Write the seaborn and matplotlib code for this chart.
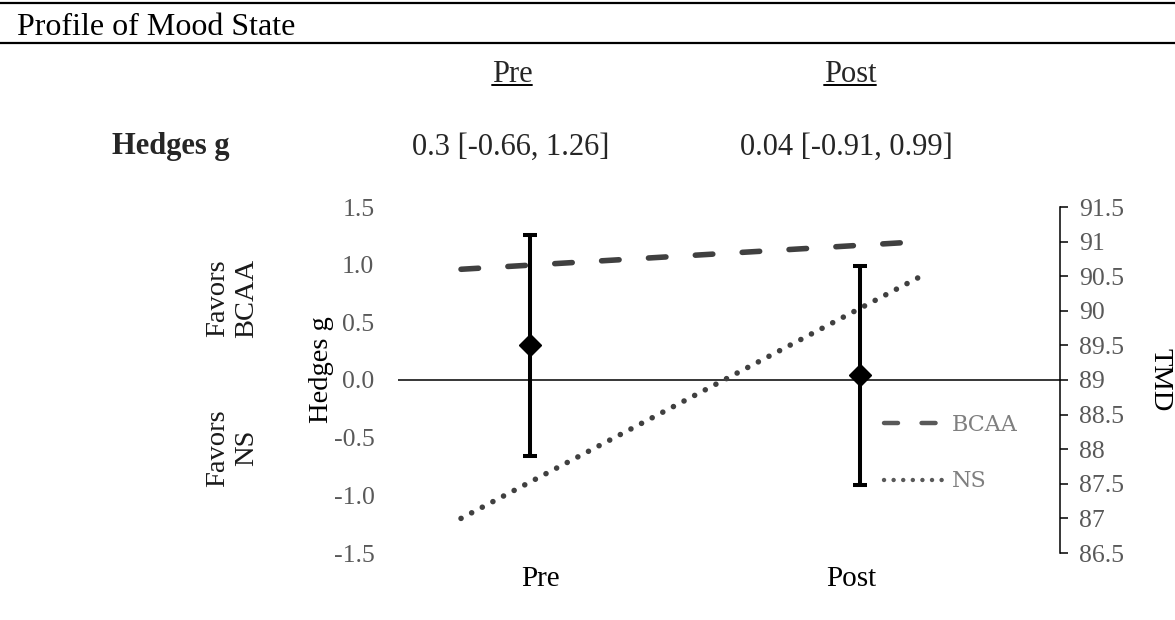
"""
Profile of Mood State: Hedges g effect sizes (left axis) with TMD group means (right axis).
"""

import matplotlib

matplotlib.use("Agg")
import matplotlib.pyplot as plt
from matplotlib.lines import Line2D
import pandas as pd
import seaborn as sns

# -------------------------------
# Data
# -------------------------------
TIMEPOINTS = ["Pre", "Post"]
HEDGES_G = [0.3, 0.04]
CI_LOW = [-0.66, -0.91]
CI_HIGH = [1.26, 0.99]

GROUPS = ["BCAA", "NS"]
TMD_BCAA = [90.6, 91.0]
TMD_NS = [87.0, 90.5]

G_TICKS = [-1.5, -1.0, -0.5, 0.0, 0.5, 1.0, 1.5]
TMD_TICKS = [86.5, 87, 87.5, 88, 88.5, 89, 89.5, 90, 90.5, 91, 91.5]

# -------------------------------
# Style
# -------------------------------
W, H = 1175, 620
FONT = ["Liberation Serif", "DejaVu Serif"]
TICK_GREY = "#595959"
LINE_GREY = "#404040"
HEAD_FS = 22
TICK_FS = 18.5

sns.set_theme(style="white")
plt.rcParams["font.family"] = FONT
plt.rcParams["lines.dash_capstyle"] = "round"
plt.rcParams["lines.solid_capstyle"] = "round"


def fx(px):
    return px / W


def fy(py):
    return 1 - py / H


def build_tmd_frame() -> pd.DataFrame:
    """Long table of TMD means per group and timepoint."""
    rows = []
    for group, values in zip(GROUPS, [TMD_BCAA, TMD_NS]):
        for i, (tp, v) in enumerate(zip(TIMEPOINTS, values)):
            rows.append({"pos": i, "timepoint": tp, "group": group, "TMD": v})
    return pd.DataFrame(rows)


def draw_header(fig) -> None:
    """Table-like header above the plot."""
    for py in [3, 43]:
        fig.add_artist(Line2D([0, 1], [fy(py), fy(py)], color="black", lw=1.6))
    fig.text(fx(17), fy(35), "Profile of Mood State", fontsize=23,
             ha="left", va="baseline", color="black")

    fig.canvas.draw()
    for px, label in zip([512, 850], TIMEPOINTS):
        t = fig.text(fx(px), fy(82), label, fontsize=HEAD_FS, ha="center", va="baseline")
        bb = t.get_window_extent(renderer=fig.canvas.get_renderer())
        bb = bb.transformed(fig.transFigure.inverted())
        fig.add_artist(Line2D([bb.x0, bb.x1], [fy(85), fy(85)], color="black", lw=1.4))

    fig.text(fx(171), fy(154), "Hedges g", fontsize=HEAD_FS, fontweight="bold",
             ha="center", va="baseline")
    for px, g, lo, hi in zip([511, 846], HEDGES_G, CI_LOW, CI_HIGH):
        fig.text(fx(px), fy(155), f"{g:g} [{lo:g}, {hi:g}]", fontsize=HEAD_FS,
                 ha="center", va="baseline")


def main():
    fig = plt.figure(figsize=(W / 100, H / 100), dpi=100)
    pos = [fx(398), 1 - 553 / H, (1060 - 398) / W, (553 - 207) / H]
    xs = list(range(len(TIMEPOINTS)))

    # category labels: the source places them on a slightly narrower spacing
    ax_lab = fig.add_axes(pos, frameon=False)
    ax_lab.set_xlim(-0.4566, 1.672)
    ax_lab.set_xticks(xs)
    ax_lab.set_xticklabels(TIMEPOINTS, fontsize=21, color="black")
    ax_lab.set_yticks([])
    ax_lab.tick_params(axis="x", length=0, pad=9)
    ax_lab.grid(False)

    # Hedges g axis
    ax = fig.add_axes(pos, frameon=False)
    yerr = [[g - lo for g, lo in zip(HEDGES_G, CI_LOW)],
            [hi - g for g, hi in zip(HEDGES_G, CI_HIGH)]]
    ax.errorbar(xs, HEDGES_G, yerr=yerr, fmt="D", color="black", ms=11.5,
                elinewidth=2.9, capsize=5, capthick=2.9, zorder=5)
    ax.axhline(0, color="black", lw=1.1, zorder=1)
    ax.set_xlim(-0.4, 1.606)
    ax.set_ylim(-1.5, 1.5)
    ax.set_yticks(G_TICKS)
    ax.set_yticklabels([f"{v:.1f}" for v in G_TICKS], color=TICK_GREY, fontsize=TICK_FS)
    ax.set_xticks([])
    ax.tick_params(axis="y", length=0, pad=17)
    ax.spines["left"].set_visible(True)
    ax.spines["left"].set_color("black")
    ax.spines["left"].set_linewidth(1.1)
    ax.grid(False)
    ax.set_ylabel("Hedges g", fontsize=20.5, color="black")
    ax.yaxis.set_label_coords((322 - 398) / 662, (553 - 370) / 346)
    ax.yaxis.label.set_va("center")

    # TMD axis (right)
    ax2 = ax.twinx()
    ax2.set_ylim(86.5, 91.5)
    ax2.set_yticks(TMD_TICKS)
    ax2.set_yticklabels([f"{v:g}" for v in TMD_TICKS], color=TICK_GREY, fontsize=TICK_FS)
    ax2.tick_params(axis="y", length=6, width=1.1, color="black", pad=8, direction="out")
    for side in ["top", "left", "bottom"]:
        ax2.spines[side].set_visible(False)
    ax2.spines["right"].set_color("black")
    ax2.spines["right"].set_linewidth(1.1)
    ax2.grid(False)

    # TMD group lines sit on their own category spacing
    ax3 = fig.add_axes(pos, frameon=False)
    tmd = build_tmd_frame()
    sns.lineplot(data=tmd, x="pos", y="TMD", hue="group", style="group",
                 palette={"BCAA": LINE_GREY, "NS": LINE_GREY},
                 dashes={"BCAA": (3.15, 5.3), "NS": (0.01, 2.15)},
                 linewidth=4, ax=ax3)
    ax3.set_xlim(-0.137, 1.302)
    ax3.set_ylim(86.5, 91.5)
    ax3.set_axis_off()
    handles, labels = ax3.get_legend_handles_labels()
    for h in handles:
        h.set_linewidth(3.2)
        h.set_color("#595959")
    ax3.legend(handles, labels, loc="upper left",
               bbox_to_anchor=(fx(884), fy(414)), bbox_transform=fig.transFigure,
               frameon=False, prop={"family": "DejaVu Serif", "size": 16},
               labelcolor="#7f7f7f", handlelength=2.85,
               handletextpad=0.2, labelspacing=1.55, borderpad=0, borderaxespad=0)

    # Side annotations
    fig.text(fx(232), fy(298), "Favors\nBCAA", rotation=90, fontsize=20.5,
             ha="center", va="center", linespacing=1.2, color="#1a1a1a")
    fig.text(fx(232), fy(448), "Favors\nNS", rotation=90, fontsize=20.5,
             ha="center", va="center", linespacing=1.2, color="#1a1a1a")
    fig.text(fx(1160), fy(380), "TMD", rotation=270, fontsize=20.5,
             ha="center", va="center", color="black")

    draw_header(fig)
    fig.savefig("out.png", dpi=100, facecolor="white")


if __name__ == "__main__":
    main()
